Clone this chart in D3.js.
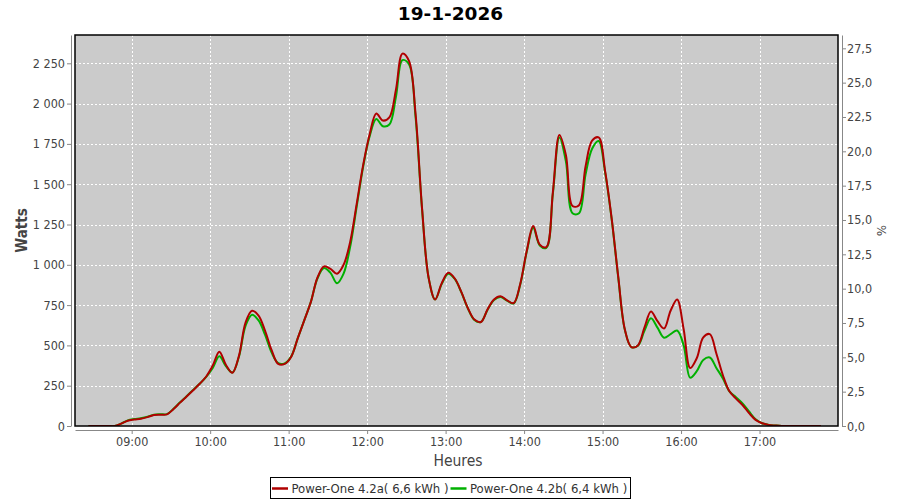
<!DOCTYPE html>
<html><head><meta charset="utf-8">
<script src="https://cdn.jsdelivr.net/npm/d3@7"></script>
<style>
body{margin:0;background:#fff;}
svg{display:block;}
text{font-family:"DejaVu Sans Condensed","DejaVu Sans",sans-serif;font-stretch:condensed;}
</style></head>
<body>
<script>
const title = "19-1-2026";
const times = ["08:27","08:32","08:37","08:42","08:47","08:52","08:57","09:02","09:07","09:12",
"09:17","09:22","09:27","09:32","09:37","09:42","09:47","09:52","09:57","10:02",
"10:07","10:12","10:17","10:22","10:27","10:32","10:37","10:42","10:47","10:52",
"10:57","11:02","11:07","11:12","11:17","11:22","11:27","11:32","11:37","11:42",
"11:47","11:52","11:57","12:02","12:07","12:12","12:17","12:22","12:27","12:32",
"12:37","12:42","12:47","12:52","12:57","13:02","13:07","13:12","13:17","13:22",
"13:27","13:32","13:37","13:42","13:47","13:52","13:57","14:02","14:07","14:12",
"14:17","14:22","14:27","14:32","14:37","14:42","14:47","14:52","14:57","15:02",
"15:07","15:12","15:17","15:22","15:27","15:32","15:37","15:42","15:47","15:52",
"15:57","16:02","16:07","16:12","16:17","16:22","16:27","16:32","16:37","16:42",
"16:47","16:52","16:57","17:02","17:07","17:12","17:17","17:22","17:27","17:32",
"17:37","17:42","17:47"];
const powerA = [0,0,0,0,0,15,33,40,45,55,
68,70,72,105,145,183,222,262,307,375,
461,380,330,435,640,715,685,590,470,385,
385,430,545,657,770,920,990,975,945,1000,
1140,1376,1620,1812,1939,1895,1915,2085,2310,2265,
1940,1350,920,785,885,950,915,832,732,660,
645,722,785,805,780,762,880,1085,1240,1125,
1110,1450,1805,1680,1365,1370,1610,1770,1790,1580,
1285,925,600,490,500,610,710,650,605,715,
785,600,360,420,550,570,450,315,215,170,
130,80,38,17,7,3,0,0,0,0,
0,0,0];
const powerB = [0,0,0,0,0,15,35,43,48,58,
70,73,74,107,147,185,224,262,305,360,
432,372,332,430,620,690,655,565,455,390,
388,432,545,657,770,915,980,950,885,945,
1110,1360,1610,1800,1905,1860,1870,2040,2270,2245,
1920,1345,920,785,880,945,912,830,730,658,
645,720,782,800,778,760,875,1080,1230,1120,
1105,1440,1790,1640,1320,1320,1560,1720,1768,1570,
1280,920,598,490,498,590,668,610,548,570,
592,500,300,340,410,425,360,295,215,178,
140,90,42,17,7,3,0,0,0,0,
0,0,0];
const hourTicks = ["09:00","10:00","11:00","12:00","13:00","14:00","15:00","16:00","17:00"];
const wattTicks = [0,250,500,750,1000,1250,1500,1750,2000,2250];
const pctTicks = [0,2.5,5,7.5,10,12.5,15,17.5,20,22.5,25,27.5];
const legendLabels = ["Power-One 4.2a( 6,6 kWh )","Power-One 4.2b( 6,4 kWh )"];
const colors = ["#b00000","#00b000"];

const W = 900, H = 500;
const m = {left:75, right:838, top:35, bottom:426};
const parseT = s => { const [h,mm]=s.split(":").map(Number); return new Date(2026,0,19,h,mm,0); };

const x = d3.scaleTime().domain([new Date(2026,0,19,8,16,40), new Date(2026,0,19,18,0,0)]).range([m.left, m.right]);
const y = d3.scaleLinear().domain([0, 2425.6]).range([m.bottom, m.top]);
const y2 = d3.scaleLinear().domain([0, 28.47]).range([m.bottom, m.top]);

const svg = d3.select("body").append("svg").attr("width",W).attr("height",H);

// title
svg.append("text").attr("x",450.5).attr("y",20).attr("text-anchor","middle")
  .style("font-family","'DejaVu Sans',sans-serif").style("font-stretch","normal")
  .style("font-weight","bold").style("font-size","18.5px").attr("fill","#000").text(title);

// plot background
svg.append("rect").attr("x",m.left).attr("y",m.top).attr("width",m.right-m.left).attr("height",m.bottom-m.top).attr("fill","#cbcbcb");

// grid
const g = svg.append("g");
g.selectAll("line.v").data(hourTicks.map(parseT)).join("line")
  .attr("x1",d=>Math.round(x(d))+0.5).attr("x2",d=>Math.round(x(d))+0.5)
  .attr("y1",m.top).attr("y2",m.bottom).attr("stroke","#fff").attr("stroke-dasharray","2,2");
g.selectAll("line.h").data(wattTicks.filter(d=>d>0)).join("line")
  .attr("y1",d=>Math.round(y(d))+0.5).attr("y2",d=>Math.round(y(d))+0.5)
  .attr("x1",m.left).attr("x2",m.right).attr("stroke","#fff").attr("stroke-dasharray","2,2");

// lines
const clip = svg.append("clipPath").attr("id","clp").append("rect")
  .attr("x",m.left).attr("y",m.top).attr("width",m.right-m.left).attr("height",m.bottom-m.top);
const line = d3.line().x((d,i)=>x(parseT(times[i]))).y(d=>y(d)).curve(d3.curveCatmullRom.alpha(0.5));
const lg = svg.append("g").attr("clip-path","url(#clp)");
lg.append("path").attr("d",line(powerB)).attr("fill","none").attr("stroke",colors[1]).attr("stroke-width",2);
lg.append("path").attr("d",line(powerA)).attr("fill","none").attr("stroke",colors[0]).attr("stroke-width",2);

// border
svg.append("rect").attr("x",m.left).attr("y",m.top).attr("width",m.right-m.left).attr("height",m.bottom-m.top)
  .attr("fill","none").attr("stroke","#000").attr("stroke-width",1.5);

const fmtW = d => d3.format(",")(d).replace(/,/g," ");
const fmtP = d => d3.format(".1f")(d).replace(".",",");

// left axis
const la = svg.append("g").attr("transform","translate(71,0)")
  .call(d3.axisLeft(y).tickValues(wattTicks).tickFormat(fmtW).tickSize(4).tickSizeOuter(0));
// right axis
const ra = svg.append("g").attr("transform","translate(842,0)")
  .call(d3.axisRight(y2).tickValues(pctTicks).tickFormat(fmtP).tickSize(4).tickSizeOuter(0));
// bottom axis
const ba = svg.append("g").attr("transform","translate(0,430)")
  .call(d3.axisBottom(x).tickValues(hourTicks.map(parseT)).tickFormat(d3.timeFormat("%H:%M")).tickSize(4).tickSizeOuter(0));
[la,ra,ba].forEach(a=>{
  a.select(".domain").attr("stroke","#888");
  a.selectAll(".tick line").attr("stroke","#888");
  a.selectAll(".tick text").attr("fill","#444").style("font-size","12.5px")
    .style("font-family","'DejaVu Sans Condensed','DejaVu Sans',sans-serif");
});
la.selectAll(".tick text").attr("x",-6);
ra.selectAll(".tick text").attr("x",5);
ba.selectAll(".tick text").attr("y",7);

// axis labels
svg.append("text").attr("transform","translate(27,230.5) rotate(-90)").attr("text-anchor","middle")
  .style("font-size","15px").style("font-weight","bold").attr("fill","#444").text("Watts");
svg.append("text").attr("transform","translate(877,230.5) rotate(90)").attr("text-anchor","middle")
  .style("font-size","13px").attr("fill","#444").text("%");
svg.append("text").attr("x",458).attr("y",466).attr("text-anchor","middle")
  .style("font-size","15.5px").attr("fill","#444").text("Heures");

// legend
const leg = svg.append("g");
leg.append("rect").attr("x",270.5).attr("y",477.5).attr("width",360).attr("height",21).attr("fill","#fff").attr("stroke","#000");
const lx = [272, 450.5];
legendLabels.forEach((lab,i)=>{
  leg.append("line").attr("x1",lx[i]).attr("x2",lx[i]+16).attr("y1",488.5).attr("y2",488.5).attr("stroke",colors[i]).attr("stroke-width",2.5);
  leg.append("text").attr("x",lx[i]+19.5).attr("y",493).style("font-size","13px").attr("fill","#333").text(lab);
});
</script>
</body></html>
